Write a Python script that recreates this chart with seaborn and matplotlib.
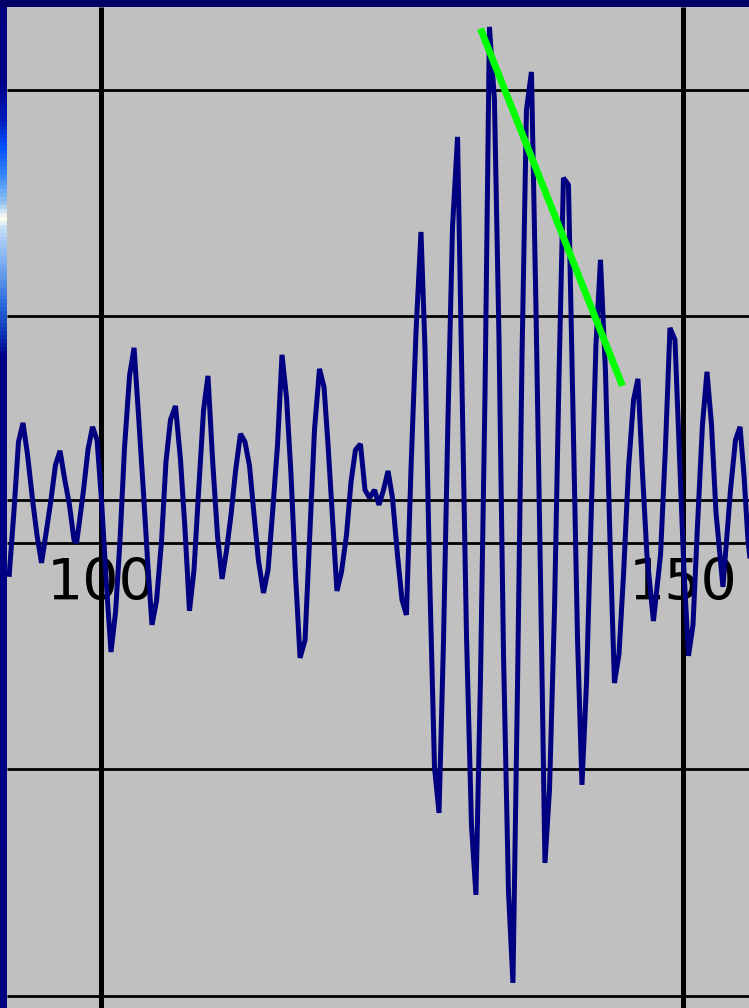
import numpy as np
import pandas as pd
import matplotlib
matplotlib.use("Agg")
import matplotlib.pyplot as plt
import seaborn as sns
from matplotlib.colors import LinearSegmentedColormap
from matplotlib.patches import Rectangle

# ---------------- data ----------------
t = [92.10, 92.53, 92.91, 93.30, 93.69, 94.12, 94.50, 94.89, 95.32, 95.70,
     96.09, 96.48, 96.86, 97.29, 97.68, 97.90, 98.11, 98.50, 98.88, 99.27,
     99.66, 100.04, 100.47, 100.86, 101.25, 101.63, 102.02, 102.45, 102.84, 103.22,
     103.65, 104.04, 104.38, 104.77, 105.20, 105.58, 105.97, 106.40, 106.83, 107.22,
     107.60, 107.99, 108.38, 108.81, 109.19, 109.58, 110.01, 110.40, 110.78, 111.17,
     111.56, 111.98, 112.37, 112.76, 113.14, 113.53, 113.96, 114.35, 114.73, 115.16,
     115.55, 115.94, 116.32, 116.71, 117.10, 117.53, 117.91, 118.34, 118.77, 119.16,
     119.50, 119.89, 120.27, 120.66, 121.09, 121.48, 121.86, 122.29, 122.68, 123.07,
     123.50, 123.88, 124.27, 124.66, 125.04, 125.47, 125.86, 126.24, 126.63, 127.06,
     127.49, 127.83, 128.22, 128.65, 129.04, 129.42, 129.81, 130.20, 130.63, 131.01,
     131.40, 131.83, 132.21, 132.60, 132.99, 133.37, 133.80, 134.19, 134.58, 135.01,
     135.39, 135.78, 136.17, 136.55, 136.98, 137.37, 137.76, 138.14, 138.53, 138.96,
     139.35, 139.73, 140.16, 140.55, 140.94, 141.32, 141.71, 142.14, 142.52, 142.91,
     143.34, 143.73, 144.11, 144.50, 144.89, 145.32, 145.75, 146.13, 146.52, 146.90,
     147.46, 148.07, 148.49, 148.88, 149.31, 149.70, 150.08, 150.47, 150.86, 151.24,
     151.67, 152.06, 152.45, 152.83, 153.43, 154.08, 154.51, 154.90, 155.24, 155.58,
     156.01]

amp = [-0.340, -0.044, 0.256, 0.340, 0.199, 0.000, -0.155, -0.278, -0.133, 0.000,
       0.155, 0.217, 0.097, -0.022, -0.177, -0.190, -0.110, 0.044, 0.221, 0.323,
       0.265, 0.000, -0.376, -0.672, -0.495, -0.181, 0.230, 0.548, 0.672, 0.376,
       0.031, -0.300, -0.552, -0.446, -0.181, 0.168, 0.354, 0.415, 0.177, -0.133,
       -0.490, -0.309, 0.035, 0.398, 0.548, 0.181, -0.159, -0.349, -0.225, -0.066,
       0.128, 0.292, 0.256, 0.150, -0.062, -0.270, -0.411, -0.309, -0.062, 0.239,
       0.641, 0.451, 0.115, -0.331, -0.698, -0.619, -0.181, 0.309, 0.579, 0.499,
       0.247, -0.084, -0.402, -0.318, -0.155, 0.080, 0.221, 0.247, 0.044, 0.009,
       0.044, -0.022, 0.044, 0.128, 0.009, -0.243, -0.442, -0.508, 0.133, 0.738,
       1.184, 0.676, -0.309, -1.180, -1.383, -0.632, 0.362, 1.206, 1.604, 0.504,
       -0.601, -1.441, -1.745, -0.795, 0.468, 2.090, 1.768, 0.720, -0.685, -1.737,
       -2.134, -0.831, 0.636, 1.723, 1.891, 0.844, -0.354, -1.604, -1.281, -0.486,
       0.552, 1.423, 1.392, 0.398, -0.619, -1.259, -0.809, -0.022, 0.685, 1.061,
       0.566, -0.181, -0.809, -0.681, -0.331, 0.141, 0.442, 0.535, 0.119, -0.243,
       -0.535, -0.243, 0.230, 0.760, 0.707, 0.186, -0.309, -0.689, -0.552, -0.119,
       0.331, 0.566, 0.331, -0.053, -0.384, 0.044, 0.265, 0.323, 0.110, -0.177,
       -0.376]

trend_t = [132.60, 144.80]
trend_amp = [2.082, 0.504]

x_grid = [100, 150]
x_labels = ["100", "150"]
y_grid = [1.812, 0.813, -0.190, -1.189, -2.190]
baseline = 0.0

# ---------------- style ----------------
sns.set_style("white")
plt.rcParams['font.family'] = ['DejaVu Sans']

W, H = 749, 1008
BG = '#c0c0c0'
fig = plt.figure(figsize=(W / 100, H / 100), dpi=100)
fig.patch.set_facecolor(BG)

ax = fig.add_axes([7 / W, 0, (W - 7) / W, (H - 7) / H])
ax.set_facecolor(BG)

for g in x_grid:
    ax.axvline(g, color='black', lw=3.6, zorder=1)
for g in y_grid:
    ax.axhline(g, color='black', lw=2.0, zorder=1)
ax.axhline(baseline, color='black', lw=2.0, zorder=1)

for g, lab in zip(x_grid, x_labels):
    ax.text(g, -0.442, lab, ha='center', va='baseline', fontsize=41,
            fontweight='normal', color='black', zorder=2)

df = pd.DataFrame({'t': t, 'amp': amp})
sns.lineplot(data=df, x='t', y='amp', sort=False, estimator=None,
             color='#000080', lw=3.6, ax=ax, zorder=3)
trend = pd.DataFrame({'t': trend_t, 'amp': trend_amp})
sns.lineplot(data=trend, x='t', y='amp', sort=False, estimator=None,
             color='#00ff00', lw=5.0, ax=ax, zorder=4)
for ln in ax.get_lines():
    ln.set_solid_joinstyle('bevel')
    ln.set_solid_capstyle('butt')

ax.set_xlim(91.924, 155.67)
ax.set_ylim(-2.245, 2.178)
ax.set_xticks([])
ax.set_yticks([])
ax.set_xlabel('')
ax.set_ylabel('')
for s in ax.spines.values():
    s.set_visible(False)

# left gradient border
stops = [(0, '#000080'), (80, '#000088'), (120, '#0020c0'), (145, '#0050ff'),
         (175, '#3c8cff'), (200, '#8cc0f0'), (213, '#e8f0f0'), (218, '#fffff0'),
         (225, '#c8e0f8'), (260, '#80b0f0'), (300, '#3070e0'), (335, '#0830b0'),
         (355, '#000088'), (1008, '#000080')]
cmap = LinearSegmentedColormap.from_list('edge', [(p / 1008, c) for p, c in stops])
lax = fig.add_axes([0, 0, 7 / W, 1])
grad = np.linspace(0, 1, 1008).reshape(-1, 1)
lax.imshow(grad, cmap=cmap, aspect='auto', origin='upper', extent=[0, 1, 0, 1],
           interpolation='bilinear')
lax.axis('off')

# top border
fig.add_artist(Rectangle((0, (H - 7) / H), 1, 7 / H, transform=fig.transFigure,
                         facecolor='#000066', edgecolor='none', zorder=10))

fig.savefig('out.png', dpi=100, facecolor=BG)
